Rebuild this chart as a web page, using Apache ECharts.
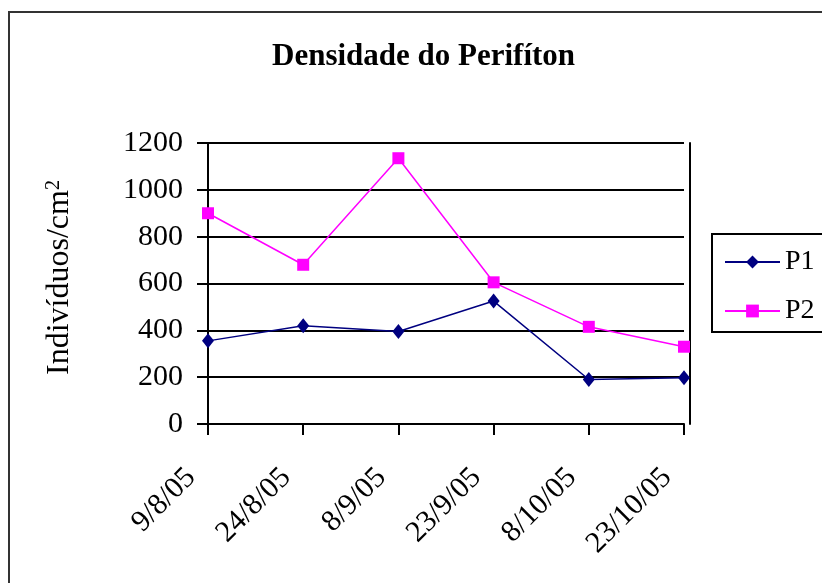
<!DOCTYPE html>
<html>
<head>
<meta charset="utf-8">
<title>Densidade do Perifíton</title>
<script src="https://cdn.jsdelivr.net/npm/echarts@6/dist/echarts.min.js"></script>
<style>
  html, body { margin: 0; padding: 0; background: #fff; }
  #chart { width: 822px; height: 583px; }
</style>
</head>
<body>
<div id="chart"></div>
<script>
// Sampling dates
const dates = ['9/8/05', '24/8/05', '8/9/05', '23/9/05', '8/10/05', '23/10/05'];
// Periphyton density (individuals per cm²) at each site
const p1 = [355, 420, 395, 525, 190, 198];
const p2 = [900, 680, 1135, 605, 415, 330];
// Value axis ticks
const yTicks = [0, 200, 400, 600, 800, 1000, 1200];

const serif = '"Liberation Serif", "Times New Roman", serif';

const chart = echarts.init(document.getElementById('chart'), null, { renderer: 'canvas' });

chart.setOption({
  backgroundColor: '#ffffff',
  animation: false,
  title: {
    text: 'Densidade do Perifíton',
    left: 267,
    top: 36,
    textStyle: { fontFamily: serif, fontSize: 31, fontWeight: 'bold', color: '#000' }
  },
  graphic: [{
    type: 'rect',
    shape: { x: 9, y: 12, width: 900, height: 700 },
    style: { fill: null, stroke: '#333', lineWidth: 2 },
    silent: true,
    z: -1
  }],
  legend: {
    orient: 'vertical',
    left: 712,
    top: 234,
    padding: [14, 40, 7, 12],
    itemWidth: 55,
    itemHeight: 16,
    itemGap: 21,
    borderColor: '#000',
    borderWidth: 2,
    textStyle: { fontFamily: serif, fontSize: 28, color: '#000' },
    data: ['P1', 'P2']
  },
  grid: { left: 208, top: 143, right: 138, bottom: 159, containLabel: false },
  xAxis: {
    type: 'category',
    data: dates,
    boundaryGap: false,
    axisLine: { lineStyle: { color: '#000', width: 2 } },
    axisTick: { show: true, length: 11, alignWithLabel: true, lineStyle: { color: '#000', width: 2 } },
    axisLabel: {
      rotate: 45, margin: 32, padding: [0, 24, 0, 0],
      fontFamily: serif, fontSize: 30, color: '#000', interval: 0
    }
  },
  yAxis: [{
    type: 'value',
    min: yTicks[0],
    max: yTicks[yTicks.length - 1],
    interval: yTicks[1] - yTicks[0],
    name: 'Indivíduos/cm{sup|2}',
    nameLocation: 'middle',
    nameRotate: 90,
    nameGap: 132,
    nameTextStyle: {
      fontFamily: serif, fontSize: 32, color: '#000',
      padding: [0, 0, 0, 12],
      rich: { sup: { fontFamily: serif, fontSize: 20, color: '#000', verticalAlign: 'top' } }
    },
    axisLine: { show: true, lineStyle: { color: '#000', width: 2 } },
    axisTick: { show: true, length: 11, lineStyle: { color: '#000', width: 2 } },
    axisLabel: {
      margin: 25, fontFamily: serif, fontSize: 30, color: '#000',
      formatter: (v) => String(v)
    },
    splitLine: { show: true, lineStyle: { color: '#000', width: 2 } }
  }, {
    // right-hand frame of the plot area
    type: 'value',
    position: 'right',
    offset: 6,
    min: yTicks[0],
    max: yTicks[yTicks.length - 1],
    interval: yTicks[1] - yTicks[0],
    axisLine: { show: true, lineStyle: { color: '#000', width: 2 } },
    axisTick: { show: false },
    axisLabel: { show: false },
    splitLine: { show: false }
  }],
  series: [{
    name: 'P1',
    type: 'line',
    data: p1,
    symbol: 'diamond',
    symbolSize: [12, 15],
    lineStyle: { color: '#000080', width: 1.5 },
    itemStyle: { color: '#000080' },
    z: 3
  }, {
    name: 'P2',
    type: 'line',
    data: p2,
    symbol: 'rect',
    symbolSize: 12,
    lineStyle: { color: '#ff00ff', width: 1.5 },
    itemStyle: { color: '#ff00ff' },
    z: 2
  }]
});
</script>
</body>
</html>
